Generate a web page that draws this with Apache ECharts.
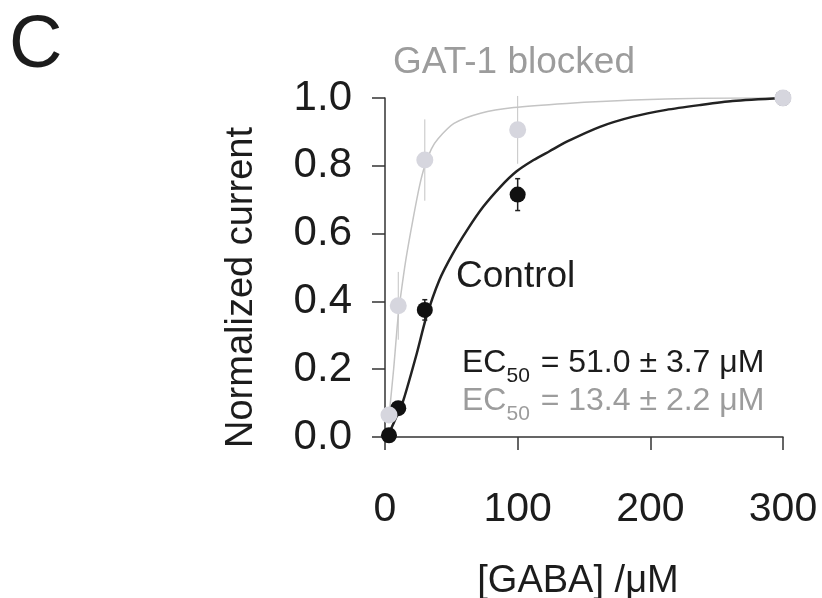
<!DOCTYPE html>
<html>
<head>
<meta charset="utf-8">
<script src="https://cdn.jsdelivr.net/npm/echarts@6/dist/echarts.min.js"></script>
<style>
  html, body { margin: 0; padding: 0; background: #ffffff; }
  #chart { width: 822px; height: 598px; }
</style>
</head>
<body>
<div id="chart"></div>
<script>
// Axis ticks
const xTicks = [0, 100, 200, 300];
const yTicks = [0, 0.2, 0.4, 0.6, 0.8, 1.0];
const yTickLabels = ['0.0', '0.2', '0.4', '0.6', '0.8', '1.0'];

// Measured responses (mean ± s.e.m.), GABA in µM
const controlX = [3, 10, 30, 100, 300];
const controlY = [0.005, 0.085, 0.375, 0.715, 1.0];
const controlErr = [0.01, 0.012, 0.03, 0.047, 0];

const blockedX = [3, 10, 30, 100, 300];
const blockedY = [0.065, 0.387, 0.817, 0.906, 1.0];
const blockedErr = [0.015, 0.10, 0.12, 0.10, 0];

// Fitted dose-response curves
const controlFitX = [3, 10, 14, 24, 31, 41, 51, 62, 74, 87, 99, 112, 124, 137, 162, 187, 212, 237, 262, 300];
const controlFitY = [0.01, 0.072, 0.11, 0.247, 0.352, 0.463, 0.54, 0.611, 0.679, 0.738, 0.783, 0.817, 0.843, 0.871, 0.915, 0.945, 0.965, 0.979, 0.991, 1.0];

const blockedFitX = [3, 6.5, 10, 13, 16, 21, 26, 30, 35, 40, 52, 72, 97, 137, 187, 237, 300];
const blockedFitY = [0.06, 0.2, 0.36, 0.45, 0.53, 0.64, 0.74, 0.80, 0.85, 0.88, 0.925, 0.955, 0.972, 0.984, 0.994, 0.999, 1.0];

// Labels
const panelLetter = 'C';
const blockedLabel = 'GAT-1 blocked';
const controlLabel = 'Control';
const controlEC50 = ['51.0', '3.7'];
const blockedEC50 = ['13.4', '2.2'];
const xName = '[GABA] /\u03bcM';
const yName = 'Normalized current';

const FONT = "'Liberation Sans', Arial, Helvetica, sans-serif";
const INK = '#1c1c1c';
const GREY_TEXT = '#9c9c9c';
const GREY_LINE = '#c4c4c4';
const GREY_DOT = '#d6d6de';

const zip = (xs, ys) => xs.map((x, i) => [x, ys[i]]);
const bars = (xs, ys, es) => xs.map((x, i) => [x, ys[i] - es[i], ys[i] + es[i]]);

function errorBars(color, width, capHalf) {
  return function (params, api) {
    const x = api.value(0);
    const lo = api.coord([x, api.value(1)]);
    const hi = api.coord([x, api.value(2)]);
    const style = { stroke: color, lineWidth: width };
    const children = [{ type: 'line', shape: { x1: lo[0], y1: lo[1], x2: hi[0], y2: hi[1] }, style }];
    if (capHalf > 0) {
      children.push({ type: 'line', shape: { x1: lo[0] - capHalf, y1: lo[1], x2: lo[0] + capHalf, y2: lo[1] }, style });
      children.push({ type: 'line', shape: { x1: hi[0] - capHalf, y1: hi[1], x2: hi[0] + capHalf, y2: hi[1] }, style });
    }
    return { type: 'group', children };
  };
}

function ec50Text(vals) {
  return '{m|EC}{s|50}{m| = ' + vals[0] + ' \u00b1 ' + vals[1] + ' \u03bcM}';
}
function ec50Rich(color) {
  return {
    m: { fontSize: 32, fontFamily: FONT, fill: color, lineHeight: 32, verticalAlign: 'top' },
    s: { fontSize: 21, fontFamily: FONT, fill: color, lineHeight: 21, verticalAlign: 'top', padding: [19, 2, 0, 0] }
  };
}

const chart = echarts.init(document.getElementById('chart'), null, { renderer: 'canvas' });

const axisLine = { show: true, onZero: false, lineStyle: { color: '#333333', width: 1.5 } };
const axisTick = { show: true, inside: false, length: 13, lineStyle: { color: '#333333', width: 1.5 } };

chart.setOption({
  animation: false,
  backgroundColor: '#ffffff',
  grid: { left: 385, top: 98, width: 398, height: 339, containLabel: false, outerBoundsMode: 'none' },
  xAxis: {
    type: 'value',
    min: xTicks[0],
    max: xTicks[xTicks.length - 1],
    interval: xTicks[1] - xTicks[0],
    axisLine, axisTick,
    splitLine: { show: false },
    axisLabel: { margin: 52, fontSize: 41, color: INK, fontFamily: FONT },
    name: xName,
    nameLocation: 'middle',
    nameGap: 126,
    nameTextStyle: { fontSize: 38, color: INK, fontFamily: FONT, padding: [0, 12, 0, 0] }
  },
  yAxis: {
    type: 'value',
    min: yTicks[0],
    max: yTicks[yTicks.length - 1],
    interval: 0.2,
    axisLine, axisTick,
    splitLine: { show: false },
    axisLabel: {
      margin: 33, fontSize: 42, color: INK, fontFamily: FONT,
      formatter: (v) => yTickLabels[yTicks.findIndex(t => Math.abs(t - v) < 1e-9)]
    },
    name: yName,
    nameLocation: 'middle',
    nameGap: 124,
    nameTextStyle: { fontSize: 38, color: INK, fontFamily: FONT, padding: [0, 40, 0, 0] }
  },
  series: [
    {
      name: 'blocked fit', type: 'line', data: zip(blockedFitX, blockedFitY),
      smooth: 0.25, symbol: 'none', z: 2,
      lineStyle: { color: GREY_LINE, width: 1.5 }
    },
    {
      name: 'blocked sem', type: 'custom', data: bars(blockedX, blockedY, blockedErr),
      renderItem: errorBars(GREY_LINE, 1, 0), z: 2
    },
    {
      name: 'control fit', type: 'line', data: zip(controlFitX, controlFitY),
      smooth: 0.25, symbol: 'none', z: 3,
      lineStyle: { color: '#222222', width: 2.5 }
    },
    {
      name: 'control sem', type: 'custom', data: bars(controlX, controlY, controlErr),
      renderItem: errorBars('#222222', 1.5, 2.5), z: 3
    },
    {
      name: 'control', type: 'scatter', data: zip(controlX, controlY),
      symbol: 'circle', symbolSize: 16, z: 4,
      itemStyle: { color: '#111111', opacity: 1 }
    },
    {
      name: 'blocked', type: 'scatter', data: zip(blockedX, blockedY),
      symbol: 'circle', symbolSize: 17, z: 5,
      itemStyle: { color: GREY_DOT, opacity: 1 }
    }
  ],
  graphic: [
    { type: 'text', left: 9, top: 10, style: { text: panelLetter, fontSize: 74, fontFamily: FONT, fill: INK } },
    { type: 'text', x: 393, y: 63, style: { text: blockedLabel, fontSize: 37, fontFamily: FONT, fill: GREY_TEXT, verticalAlign: 'middle' } },
    { type: 'text', x: 456, y: 277, style: { text: controlLabel, fontSize: 37, fontFamily: FONT, fill: INK, verticalAlign: 'middle' } },
    { type: 'text', x: 462, y: 347, style: { text: ec50Text(controlEC50), rich: ec50Rich(INK), verticalAlign: 'top' } },
    { type: 'text', x: 462, y: 385, style: { text: ec50Text(blockedEC50), rich: ec50Rich(GREY_TEXT), verticalAlign: 'top' } }
  ]
});
</script>
</body>
</html>
